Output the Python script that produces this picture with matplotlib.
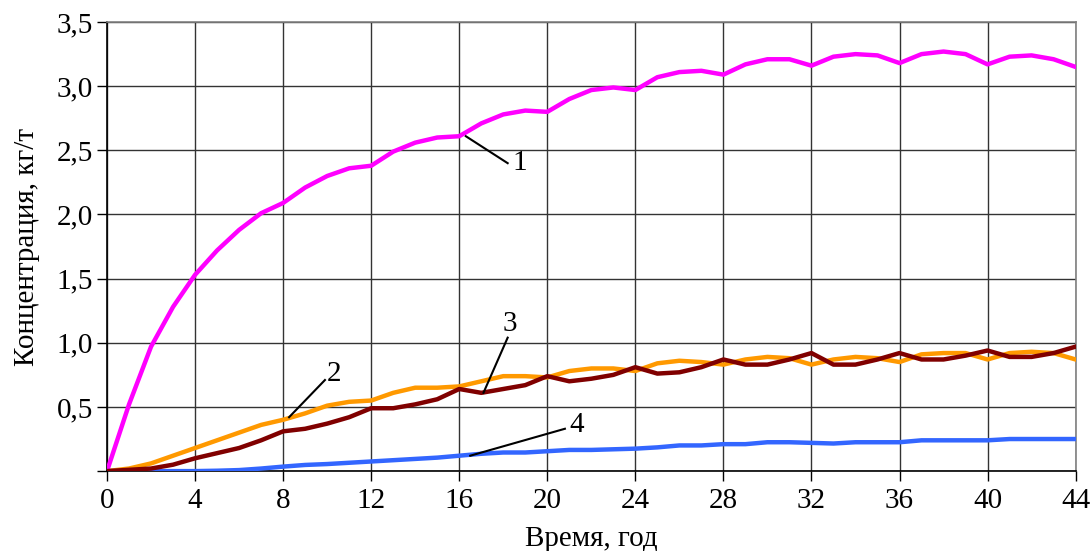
import matplotlib
matplotlib.use("Agg")
import matplotlib.pyplot as plt
import numpy as np

years = list(range(0, 45))

curve1 = [0.00, 0.52, 0.97, 1.28, 1.53, 1.72, 1.88, 2.01, 2.09, 2.21,
          2.30, 2.36, 2.38, 2.49, 2.56, 2.60, 2.61, 2.71, 2.78, 2.81,
          2.80, 2.90, 2.97, 2.99, 2.97, 3.07, 3.11, 3.12, 3.09, 3.17,
          3.21, 3.21, 3.16, 3.23, 3.25, 3.24, 3.18, 3.25, 3.27, 3.25,
          3.17, 3.23, 3.24, 3.21, 3.15]

curve2 = [0.00, 0.02, 0.06, 0.12, 0.18, 0.24, 0.30, 0.36, 0.40, 0.45,
          0.51, 0.54, 0.55, 0.61, 0.65, 0.65, 0.66, 0.70, 0.74, 0.74,
          0.73, 0.78, 0.80, 0.80, 0.78, 0.84, 0.86, 0.85, 0.83, 0.87,
          0.89, 0.88, 0.83, 0.87, 0.89, 0.88, 0.85, 0.91, 0.92, 0.92,
          0.87, 0.92, 0.93, 0.92, 0.87]

curve3 = [0.00, 0.01, 0.02, 0.05, 0.10, 0.14, 0.18, 0.24, 0.31, 0.33,
          0.37, 0.42, 0.49, 0.49, 0.52, 0.56, 0.64, 0.61, 0.64, 0.67,
          0.74, 0.70, 0.72, 0.75, 0.81, 0.76, 0.77, 0.81, 0.87, 0.83,
          0.83, 0.87, 0.92, 0.83, 0.83, 0.87, 0.92, 0.87, 0.87, 0.90,
          0.94, 0.89, 0.89, 0.92, 0.97]

curve4 = [0.000, 0.000, 0.000, 0.000, 0.000, 0.003, 0.008, 0.020, 0.035, 0.048,
          0.055, 0.065, 0.075, 0.085, 0.095, 0.105, 0.120, 0.135, 0.145, 0.145,
          0.155, 0.165, 0.165, 0.170, 0.175, 0.185, 0.200, 0.200, 0.210, 0.210,
          0.225, 0.225, 0.220, 0.215, 0.225, 0.225, 0.225, 0.240, 0.240, 0.240,
          0.240, 0.250, 0.250, 0.250, 0.250]

x_ticks = list(range(0, 45, 4))
y_ticks = [0.5, 1.0, 1.5, 2.0, 2.5, 3.0, 3.5]
y_tick_labels = ["0,5", "1,0", "1,5", "2,0", "2,5", "3,0", "3,5"]

x_label = "Время, год"
y_label = "Концентрация, кг/т"

plt.rcParams['font.family'] = ['Liberation Serif', 'DejaVu Serif']

fig = plt.figure(figsize=(10.92, 5.51), dpi=100)
ax = fig.add_axes([0.098, 0.145, 0.887, 0.815])

lw = 3.2
ax.plot(years, curve1, color='#FF00FF', lw=lw, zorder=5, solid_joinstyle='round')
ax.plot(years, curve2, color='#FF9900', lw=lw, zorder=4, solid_joinstyle='round')
ax.plot(years, curve3, color='#800000', lw=lw, zorder=6, solid_joinstyle='round')
ax.plot(years, curve4, color='#3366FF', lw=lw, zorder=5, solid_joinstyle='round')

ax.set_xlim(0, 44)
ax.set_ylim(0, 3.5)
ax.set_xticks(x_ticks)
ax.set_xticklabels([str(v) for v in x_ticks])
ax.set_yticks([0.0] + y_ticks)
ax.set_yticklabels([""] + y_tick_labels)

ax.grid(True, color='#333333', lw=1.0, zorder=0)
ax.set_axisbelow(True)
for s in ['top', 'right']:
    ax.spines[s].set_color('#808080')
    ax.spines[s].set_linewidth(1.2)
for s in ['left', 'bottom']:
    ax.spines[s].set_color('black')
    ax.spines[s].set_linewidth(1.2)

ax.tick_params(axis='both', direction='out', length=7, width=1.0,
               labelsize=21, colors='black')
ax.tick_params(axis='x', pad=5)
ax.tick_params(axis='y', pad=3)

ax.set_xlabel(x_label, fontsize=21, labelpad=9)
ax.set_ylabel(y_label, fontsize=21, labelpad=12)

fs = 21
ann = dict(color='black', lw=1.5, zorder=7)
ax.plot([16.3, 18.2], [2.61, 2.40], **ann)
ax.text(18.4, 2.40, "1", fontsize=fs, ha='left', va='center', zorder=8)
ax.plot([8.27, 9.9], [0.42, 0.71], **ann)
ax.text(10.0, 0.76, "2", fontsize=fs, ha='left', va='center', zorder=8)
ax.plot([17.1, 18.2], [0.61, 1.04], **ann)
ax.text(18.3, 1.15, "3", fontsize=fs, ha='center', va='center', zorder=8)
ax.plot([16.5, 20.8], [0.12, 0.33], **ann)
ax.text(21.0, 0.36, "4", fontsize=fs, ha='left', va='center', zorder=8)

fig.savefig("out.png", dpi=100)
